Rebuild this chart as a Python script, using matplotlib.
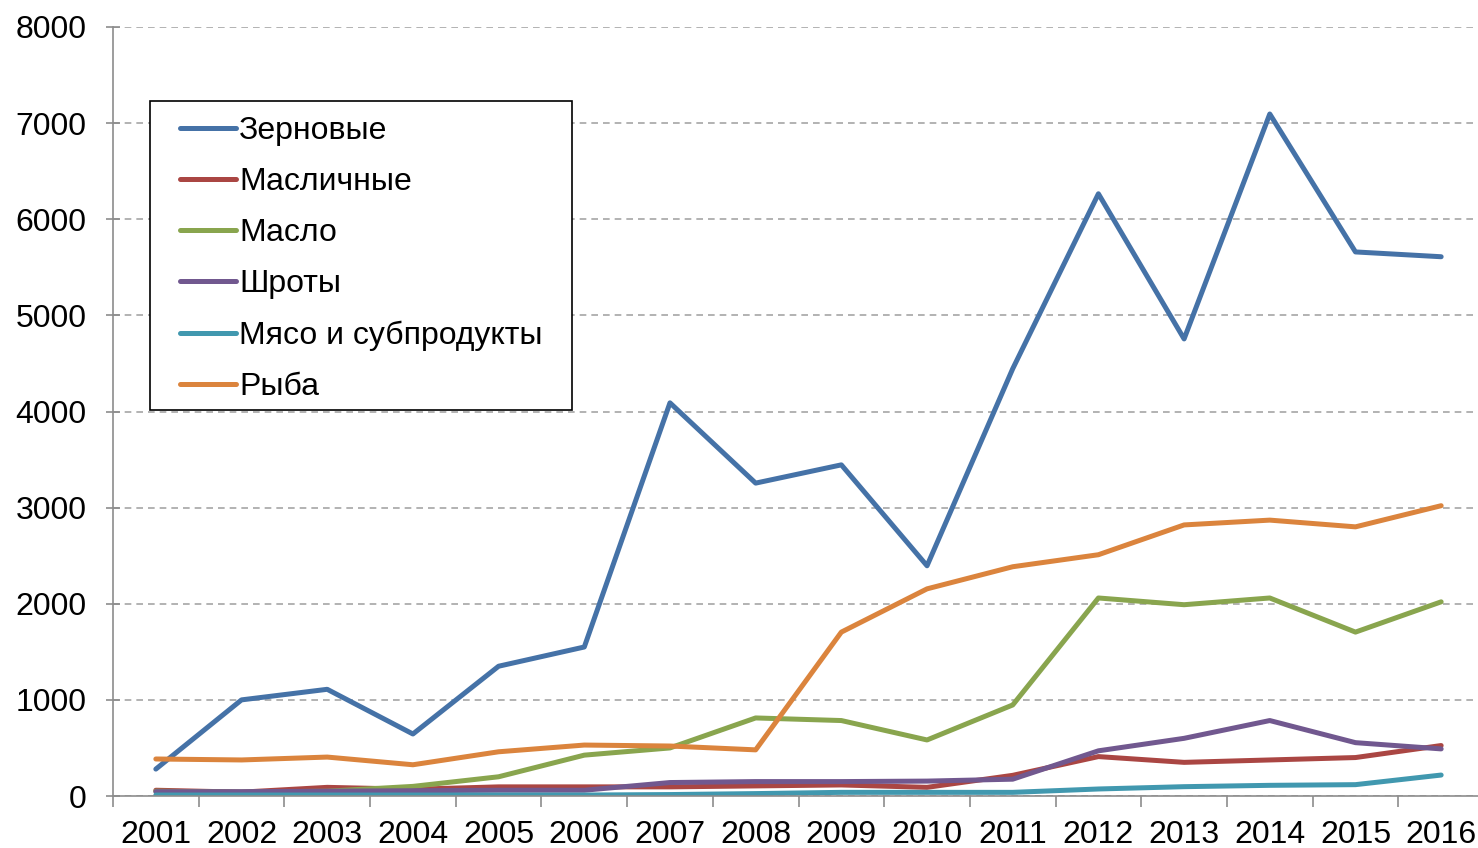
import numpy as np
import matplotlib
matplotlib.use("Agg")
import matplotlib.pyplot as plt
from matplotlib.patches import Rectangle
from matplotlib.ticker import FixedLocator

plt.rcParams['font.family'] = ['Liberation Sans', 'DejaVu Sans']

years = ['2001', '2002', '2003', '2004', '2005', '2006', '2007', '2008',
         '2009', '2010', '2011', '2012', '2013', '2014', '2015', '2016']

zernovye = [280, 1000, 1110, 645, 1350, 1550, 4090, 3255,
            3445, 2395, 4445, 6265, 4755, 7095, 5660, 5610]
maslichnye = [60, 40, 90, 70, 95, 95, 95, 105,
              115, 90, 215, 410, 350, 375, 400, 525]
maslo = [50, 40, 50, 100, 200, 425, 500, 812,
         785, 583, 947, 2060, 1990, 2060, 1705, 2020]
shroty = [45, 45, 50, 55, 60, 60, 140, 150,
          150, 155, 175, 470, 600, 785, 555, 490]
myaso = [10, 10, 10, 10, 10, 10, 15, 25,
         38, 38, 38, 73, 97, 111, 118, 218]
ryba = [385, 375, 405, 325, 460, 530, 520, 480,
        1705, 2155, 2385, 2510, 2820, 2870, 2800, 3020]

series = [
    ('Зерновые', zernovye, '#4572A7'),
    ('Масличные', maslichnye, '#AA4643'),
    ('Масло', maslo, '#89A54E'),
    ('Шроты', shroty, '#71588F'),
    ('Мясо и субпродукты', myaso, '#4198AF'),
    ('Рыба', ryba, '#DB843D'),
]

W, H = 1478, 848
fig = plt.figure(figsize=(W / 100, H / 100), dpi=100)
# ось чуть выходит за правый край, как в оригинале
ax = fig.add_axes([113 / W, 1 - 796 / H, 1371 / W, 769 / H])

x = np.arange(len(years))
for name, vals, col in series:
    ax.plot(x, vals, color=col, lw=3.6, label=name, solid_capstyle='round',
            solid_joinstyle='round')

ax.set_xlim(-0.5, len(years) - 0.5)
ax.set_ylim(0, 8000)
ax.set_yticks(np.arange(0, 8001, 1000))
ax.yaxis.grid(True, color='#a6a6a6', ls=(0, (4, 3)), lw=1.2)
ax.set_axisbelow(True)

# подписи лет по центрам, засечки между категориями
ax.xaxis.set_major_locator(FixedLocator(np.arange(-0.5, len(years), 1.0)))
ax.xaxis.set_minor_locator(FixedLocator(x))
ax.set_xticklabels([])
ax.set_xticklabels(years, minor=True)
ax.tick_params(axis='x', which='major', length=8, width=1.2, color='#8c8c8c', direction='out')
ax.tick_params(axis='x', which='minor', length=0, pad=17, labelsize=23)
ax.tick_params(axis='y', length=10, width=1.2, color='#8c8c8c', direction='inout', labelsize=23, pad=14)

for s in ['top', 'right']:
    ax.spines[s].set_visible(False)
for s in ['left', 'bottom']:
    ax.spines[s].set_color('#8c8c8c')
    ax.spines[s].set_linewidth(1.2)


# пиксели фигуры -> доли осей
def px2ax(px, py):
    return (px - 113) / 1371, (796 - py) / 769


# рамка легенды отдельно, чтобы отступы были как в оригинале
x0, y0 = px2ax(150, 410)
x1, y1 = px2ax(572, 101)
ax.add_patch(Rectangle((x0, y0), x1 - x0, y1 - y0, transform=ax.transAxes,
                       facecolor='white', edgecolor='black', lw=1.2, zorder=5))

leg = ax.legend(loc='upper left', bbox_to_anchor=px2ax(180, 116),
                fontsize=23, frameon=False,
                handlelength=1.75, handletextpad=0.1, labelspacing=0.66,
                borderpad=0, borderaxespad=0)
leg.set_zorder(6)
for line in leg.get_lines():
    line.set_linewidth(3.6)

fig.savefig('out.png', dpi=100)
